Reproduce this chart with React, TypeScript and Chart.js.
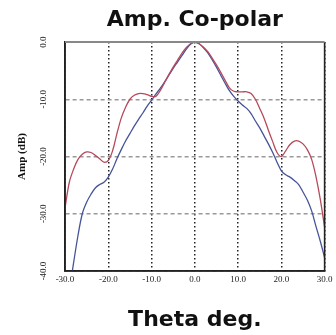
import React, { useEffect, useRef } from "react";
import { Chart, registerables } from "chart.js";

Chart.register(...registerables);

const titleText = "Amp. Co-polar";
const xTitle = "Theta deg.";
const yTitle = "Amp (dB)";

const xTicks = [-30, -20, -10, 0, 10, 20, 30];
const yTicks = [0, -10, -20, -30, -40];

const redTheta = [-30, -29, -28, -27, -26, -25, -24, -23, -22, -21, -20, -19, -18, -17, -16, -15, -14, -13, -12, -11, -10, -9, -8, -7, -6, -5, -4, -3, -2, -1, 0, 1, 2, 3, 4, 5, 6, 7, 8, 9, 10, 11, 12, 13, 14, 15, 16, 17, 18, 19, 20, 21, 22, 23, 24, 25, 26, 27, 28, 29, 30];
const redAmp = [-29, -24.5, -22.2, -20.5, -19.6, -19.2, -19.3, -19.8, -20.4, -21.0, -20.7, -19.0, -16.0, -13.3, -11.4, -10.0, -9.3, -9.0, -9.0, -9.2, -9.5, -9.5, -8.5, -7.1, -5.7, -4.4, -3.2, -2.0, -1.0, -0.3, 0, -0.3, -0.9, -1.7, -2.8, -4.0, -5.3, -6.7, -8.0, -8.6, -8.7, -8.7, -8.7, -9.0, -10.0, -11.6, -13.3, -15.4, -17.4, -19.3, -20.0, -19.0, -17.9, -17.3, -17.3, -17.8, -18.8, -20.5, -23.5, -27.5, -32.4];

const blueTheta = [-28.3, -28, -27, -26, -25, -24, -23, -22, -21, -20, -19, -18, -17, -16, -15, -14, -13, -12, -11, -10, -9, -8, -7, -6, -5, -4, -3, -2, -1, 0, 1, 2, 3, 4, 5, 6, 7, 8, 9, 10, 11, 12, 13, 14, 15, 16, 17, 18, 19, 20, 21, 22, 23, 24, 25, 26, 27, 28, 29, 30];
const blueAmp = [-40, -38.5, -33.8, -30, -28, -26.6, -25.5, -24.9, -24.5, -23.6, -22.2, -20.4, -18.8, -17.3, -16.0, -14.7, -13.5, -12.4, -11.2, -10.2, -9.1, -8.1, -7.0, -5.8, -4.6, -3.5, -2.4, -1.3, -0.4, 0, -0.3, -1.0, -1.9, -3.1, -4.4, -5.8, -7.2, -8.5, -9.5, -10.3, -11.0, -11.6, -12.5, -13.8, -15.0, -16.4, -17.8, -19.3, -21.0, -22.5, -23.2, -23.6, -24.2, -24.9, -26.2, -27.6, -29.5, -32.2, -34.8, -37.7];

const framePlugin = {
  id: "frame",
  afterDraw(chart: any) {
    const { ctx, chartArea: a } = chart;
    ctx.save();
    ctx.lineWidth = 1.6;
    ctx.strokeStyle = "#222";
    ctx.beginPath();
    ctx.moveTo(a.left, a.top);
    ctx.lineTo(a.left, a.bottom);
    ctx.lineTo(a.right, a.bottom);
    ctx.lineTo(a.right, a.top);
    ctx.stroke();
    ctx.strokeStyle = "#888";
    ctx.lineWidth = 2;
    ctx.beginPath();
    ctx.moveTo(a.left, a.top);
    ctx.lineTo(a.right, a.top);
    ctx.stroke();
    ctx.restore();
  },
};

export default function App() {
  const ref = useRef<HTMLCanvasElement>(null);
  useEffect(() => {
    if (!ref.current) return;
    const chart = new Chart(ref.current, {
      type: "line",
      data: {
        datasets: [
          {
            label: "Co-polar A",
            data: redTheta.map((x, i) => ({ x, y: redAmp[i] })),
            borderColor: "#b54a5c",
            borderWidth: 1.3,
            pointRadius: 0,
            tension: 0.35,
            fill: false,
          },
          {
            label: "Co-polar B",
            data: blueTheta.map((x, i) => ({ x, y: blueAmp[i] })),
            borderColor: "#46549a",
            borderWidth: 1.3,
            pointRadius: 0,
            tension: 0.35,
            fill: false,
          },
        ],
      },
      options: {
        responsive: false,
        animation: false,
        layout: { padding: 0 },
        plugins: {
          legend: { display: false },
          tooltip: { enabled: false },
          title: {
            display: true,
            fullSize: false,
            text: titleText,
            color: "#111",
            font: { family: "DejaVu Sans", size: 22, weight: "bold" },
            padding: { top: 6.8, bottom: 8.8 },
          },
        },
        scales: {
          x: {
            type: "linear",
            min: -30,
            max: 30,
            afterBuildTicks: (s: any) => {
              s.ticks = xTicks.map((v) => ({ value: v }));
            },
            afterFit: (s: any) => {
              s.height = 64;
            },
            ticks: {
              autoSkip: false,
              maxRotation: 0,
              padding: 3.5,
              color: "#222",
              font: { family: "Liberation Serif", size: 9 },
              callback: (v: any) => Number(v).toFixed(1),
            },
            grid: {
              color: "#222",
              lineWidth: 1.5,
              drawTicks: false,
            },
            border: { display: true, color: "#222", width: 1.6, dash: [1.5, 2.5] },
            title: {
              display: true,
              text: xTitle,
              color: "#111",
              font: { family: "DejaVu Sans", size: 22, weight: "bold" },
              padding: { top: 0, bottom: 2 },
            },
          },
          y: {
            type: "linear",
            min: -40,
            max: 0,
            afterBuildTicks: (s: any) => {
              s.ticks = yTicks.map((v) => ({ value: v }));
            },
            afterFit: (s: any) => {
              s.width = 65;
            },
            ticks: {
              autoSkip: false,
              minRotation: 90,
              maxRotation: 90,
              crossAlign: "center",
              padding: 12,
              color: "#222",
              font: { family: "Liberation Serif", size: 9 },
              callback: (v: any) => Number(v).toFixed(1),
            },
            grid: {
              color: "#999",
              lineWidth: 1.5,
              drawTicks: false,
            },
            border: { display: true, color: "#222", width: 1.6, dash: [4, 3] },
            title: {
              display: true,
              text: yTitle,
              color: "#111",
              font: { family: "Liberation Serif", size: 11, weight: "bold" },
              padding: { top: 16, bottom: 0 },
            },
          },
        },
      },
      plugins: [framePlugin],
    });
    return () => chart.destroy();
  }, []);
  return (
    <div style={{ position: "absolute", left: 0, top: 0, width: 336, height: 335 }}>
      <canvas ref={ref} width={336} height={335} style={{ display: "block" }} />
    </div>
  );
}
